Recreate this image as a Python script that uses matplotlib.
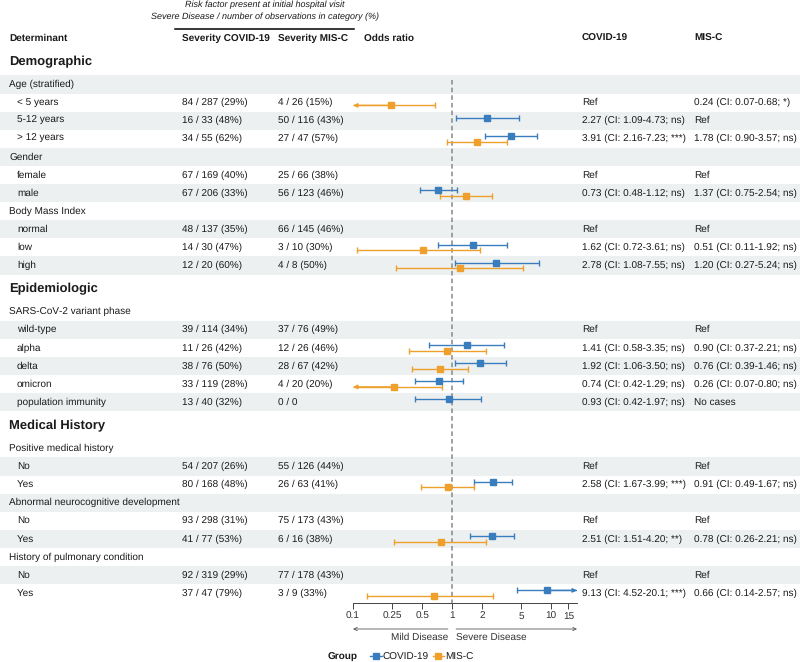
import numpy as np
import matplotlib.pyplot as plt
from matplotlib.lines import Line2D

plt.rcParams['font.family'] = ['Liberation Sans', 'DejaVu Sans']
plt.rcParams['text.hinting'] = 'no_hinting'
plt.rcParams['text.hinting_factor'] = 1

nan = np.nan

sections = ["Demographic", "Epidemiologic", "Medical History"]
section_start = [0, 11, 17]

row_labels = ["Age (stratified)", "< 5 years", "5-12 years", "> 12 years",
              "Gender", "female", "male",
              "Body Mass Index", "normal", "low", "high",
              "SARS-CoV-2 variant phase", "wild-type", "alpha", "delta", "omicron", "population immunity",
              "Positive medical history", "No", "Yes",
              "Abnormal neurocognitive development", "No", "Yes",
              "History of pulmonary condition", "No", "Yes"]
row_is_group = [True, False, False, False,
                True, False, False,
                True, False, False, False,
                True, False, False, False, False, False,
                True, False, False,
                True, False, False,
                True, False, False]

covid_severe = [None, 84, 16, 34, None, 67, 67, None, 48, 14, 12,
                None, 39, 11, 38, 33, 13, None, 54, 80, None, 93, 41, None, 92, 37]
covid_total = [None, 287, 33, 55, None, 169, 206, None, 137, 30, 20,
               None, 114, 26, 76, 119, 40, None, 207, 168, None, 298, 77, None, 319, 47]
misc_severe = [None, 4, 50, 27, None, 25, 56, None, 66, 3, 4,
               None, 37, 12, 28, 4, 0, None, 55, 26, None, 75, 6, None, 77, 3]
misc_total = [None, 26, 116, 47, None, 66, 123, None, 145, 10, 8,
              None, 76, 26, 67, 20, 0, None, 126, 63, None, 173, 16, None, 178, 9]

covid_or = [nan, nan, 2.27, 3.91, nan, nan, 0.73, nan, nan, 1.62, 2.78,
            nan, nan, 1.41, 1.92, 0.74, 0.93, nan, nan, 2.58, nan, nan, 2.51, nan, nan, 9.13]
covid_lo = [nan, nan, 1.09, 2.16, nan, nan, 0.48, nan, nan, 0.72, 1.08,
            nan, nan, 0.58, 1.06, 0.42, 0.42, nan, nan, 1.67, nan, nan, 1.51, nan, nan, 4.52]
covid_hi = [nan, nan, 4.73, 7.23, nan, nan, 1.12, nan, nan, 3.61, 7.55,
            nan, nan, 3.35, 3.50, 1.29, 1.97, nan, nan, 3.99, nan, nan, 4.20, nan, nan, 20.1]
covid_sig = ["", "", "ns", "***", "", "", "ns", "", "", "ns", "ns",
             "", "", "ns", "ns", "ns", "ns", "", "", "***", "", "", "**", "", "", "***"]

misc_or = [nan, 0.24, nan, 1.78, nan, nan, 1.37, nan, nan, 0.51, 1.20,
           nan, nan, 0.90, 0.76, 0.26, nan, nan, nan, 0.91, nan, nan, 0.78, nan, nan, 0.66]
misc_lo = [nan, 0.07, nan, 0.90, nan, nan, 0.75, nan, nan, 0.11, 0.27,
           nan, nan, 0.37, 0.39, 0.07, nan, nan, nan, 0.49, nan, nan, 0.26, nan, nan, 0.14]
misc_hi = [nan, 0.68, nan, 3.57, nan, nan, 2.54, nan, nan, 1.92, 5.24,
           nan, nan, 2.21, 1.46, 0.80, nan, nan, nan, 1.67, nan, nan, 2.21, nan, nan, 2.57]
misc_sig = ["", "*", "", "ns", "", "", "ns", "", "", "ns", "ns",
            "", "", "ns", "ns", "ns", "", "", "", "ns", "", "", "ns", "", "", "ns"]

tick_values = [0.1, 0.25, 0.5, 1, 2, 5, 10, 15]
tick_labels = ["0.1", "0.25", "0.5", "1", "2", "5", "10", "15"]
x_min, x_max = 0.1, 18.3

blue = "#3A7DBE"
orange = "#EE9F2C"
shade = "#EDF0F0"
txt = "#1A1A1A"
W, H = 800, 662


def fmt(v):
    return "%.1f" % v if v >= 10 else "%.2f" % v


def count_text(a, b):
    if a is None:
        return ""
    if b == 0:
        return "%d / %d" % (a, b)
    return "%d / %d (%.0f%%)" % (a, b, a * 100 / b)


def or_text(i, est, lo, hi, sig, total):
    if row_is_group[i]:
        return ""
    if np.isnan(est):
        return "No cases" if total == 0 else "Ref"
    return "%s (CI: %s-%s; %s)" % (fmt(est), fmt(lo), fmt(hi), sig)


# row layout in pixels
y_header = 38.3
row_y, head_y = [], []
y = y_header
for i in range(len(row_labels)):
    if i in section_start:
        y += 23.4
        head_y.append(y)
        y += 22.8
    else:
        y += 18.1
    row_y.append(y)
half = 9.05
y_top = row_y[0] - half
y_bot = row_y[-1] + 9.7

fig = plt.figure(figsize=(8, 6.62), dpi=100)
bg = fig.add_axes([0, 0, 1, 1])
bg.set_xlim(0, W)
bg.set_ylim(H, 0)
bg.set_axis_off()

for i, yy in enumerate(row_y):
    if i % 2 == 0:
        bg.axhspan(yy - half, yy + half, color=shade, lw=0, zorder=0)

# header
bg.text(265, 5, "Risk factor present at initial hospital visit", style='italic',
        fontsize=6.8, ha='center', va='center', color=txt)
bg.text(265, 16.5, "Severe Disease / number of observations in category (%)", style='italic',
        fontsize=6.8, ha='center', va='center', color=txt)
bg.plot([175, 354], [29, 29], color='black', lw=1.1)
col_x = [9, 182, 278, 364, 582, 694]
col_names = ["Determinant", "Severity COVID-19", "Severity MIS-C", "Odds ratio", "COVID-19", "MIS-C"]
for cx, name in zip(col_x, col_names):
    bg.text(cx, y_header, name, fontsize=7, fontweight='bold', ha='left', va='center', color=txt)

for name, hy in zip(sections, head_y):
    bg.text(9, hy, name, fontsize=9.3, fontweight='bold', ha='left', va='center', color=txt)

for i, yy in enumerate(row_y):
    bg.text(9 if row_is_group[i] else 17, yy, row_labels[i], fontsize=7, ha='left', va='center', color=txt)
    bg.text(182, yy, count_text(covid_severe[i], covid_total[i]), fontsize=7, ha='left', va='center', color=txt)
    bg.text(278, yy, count_text(misc_severe[i], misc_total[i]), fontsize=7, ha='left', va='center', color=txt)
    bg.text(582, yy, or_text(i, covid_or[i], covid_lo[i], covid_hi[i], covid_sig[i], covid_total[i]),
            fontsize=7, ha='left', va='center', color=txt)
    bg.text(694, yy, or_text(i, misc_or[i], misc_lo[i], misc_hi[i], misc_sig[i], misc_total[i]),
            fontsize=7, ha='left', va='center', color=txt)

# forest plot
x0_px, x1_px = 353, 577
ax = fig.add_axes([x0_px / W, (H - y_bot) / H, (x1_px - x0_px) / W, (y_bot - y_top) / H])
ax.set_facecolor('none')
ax.set_xscale('log')
ax.set_xlim(x_min, x_max)
ax.set_ylim(y_bot, y_top)
ax.minorticks_off()
ax.set_xticks(tick_values, tick_labels)
ax.set_yticks([])
for s in ['top', 'right', 'left']:
    ax.spines[s].set_visible(False)
ax.spines['bottom'].set_color('#444444')
ax.spines['bottom'].set_linewidth(0.7)
ax.tick_params(axis='x', direction='out', length=4, width=0.7, color='#444444',
               labelsize=7, labelcolor='#333333', pad=2)

ax.vlines(1, row_y[0] - 4.5, y_bot, colors='#888888', linestyles=(0, (3, 2)), lw=1.1, zorder=1)


def draw_ci(est, lo, hi, yy, color):
    if np.isnan(est):
        return
    lo_c, hi_c = max(lo, x_min), min(hi, x_max)
    ax.plot([lo_c, hi_c], [yy, yy], color=color, lw=1, solid_capstyle='butt', zorder=3)
    for end, clipped in ((lo_c, lo < x_min), (hi_c, hi > x_max)):
        if clipped:
            ax.annotate("", xy=(end, yy), xytext=(est, yy),
                        arrowprops=dict(arrowstyle='-|>', color=color, lw=1,
                                        mutation_scale=6, shrinkA=0, shrinkB=0), zorder=3)
        else:
            ax.plot([end], [yy], marker='|', ms=4, mew=1, color=color, zorder=3)
    ax.plot([est], [yy], marker='s', ms=4.5, color=color, lw=0, zorder=4)


dodge = 2.8
for i, yy in enumerate(row_y):
    draw_ci(covid_or[i], covid_lo[i], covid_hi[i], yy - dodge, blue)
    draw_ci(misc_or[i], misc_lo[i], misc_hi[i], yy + dodge, orange)

# direction arrows under the axis
arrow_y, label_y = 629, 637.5
ax.annotate("", xy=(x_min, arrow_y), xytext=(0.91, arrow_y), annotation_clip=False,
            arrowprops=dict(arrowstyle='->', color='#555555', lw=0.6, mutation_scale=6, shrinkA=0, shrinkB=0))
ax.annotate("", xy=(x_max, arrow_y), xytext=(1.1, arrow_y), annotation_clip=False,
            arrowprops=dict(arrowstyle='->', color='#555555', lw=0.6, mutation_scale=6, shrinkA=0, shrinkB=0))
ax.text(0.91, label_y, "Mild Disease", fontsize=7, ha='right', va='center', color='#333333', clip_on=False)
ax.text(1.1, label_y, "Severe Disease", fontsize=7, ha='left', va='center', color='#333333', clip_on=False)

# legend
bg.text(328, 657, "Group", fontsize=7, fontweight='bold', ha='left', va='center', color=txt)
handles = [Line2D([0], [0], color=blue, marker='s', ms=4.5, lw=1),
           Line2D([0], [0], color=orange, marker='s', ms=4.5, lw=1)]
fig.legend(handles, ["COVID-19", "MIS-C"], loc='center left', bbox_to_anchor=(370 / W, 1 - 657 / H),
           frameon=False, ncol=2, fontsize=7, handlelength=1.2, handletextpad=0.1,
           columnspacing=0.4, borderpad=0, borderaxespad=0, labelcolor=txt)

fig.savefig("out.png", dpi=100)
